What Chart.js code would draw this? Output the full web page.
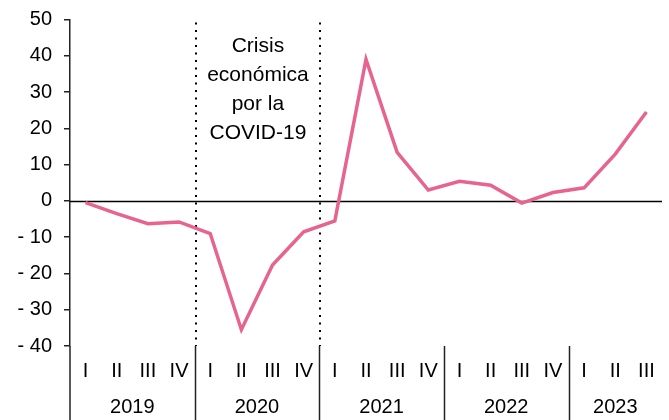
<!DOCTYPE html>
<html>
<head>
<meta charset="utf-8">
<script src="https://cdn.jsdelivr.net/npm/chart.js@4.4.1/dist/chart.umd.min.js"></script>
<style>
  html, body { margin: 0; padding: 0; background: #fff; }
  #wrap { width: 669px; height: 420px; }
</style>
</head>
<body>
<div id="wrap"><canvas id="pibChart" width="669" height="420"></canvas></div>
<script>
// trimestres y años
const trimestres = [
  "I", "II", "III", "IV",
  "I", "II", "III", "IV",
  "I", "II", "III", "IV",
  "I", "II", "III", "IV",
  "I", "II", "III",
];
const anios = ["2019", "2020", "2021", "2022", "2023"];
const trimestresPorAnio = [4, 4, 4, 4, 3];

// variación (%)
const variacion = [
  -0.5, -3.5, -6.3, -5.8,
  -9.0, -35.5, -17.7, -8.5,
  -5.5, 39.0, 13.4, 3.0,
  5.4, 4.3, -0.6, 2.3,
  3.6, 12.9, 24.5,
];

const yMin = -40;
const yMax = 50;
const yPaso = 10;

// periodo de la crisis (índices de trimestre)
const crisisInicio = 4;
const crisisFin = 7;
const notaCrisis = ["Crisis", "económica", "por la", "COVID-19"];

const fuente = "'Liberation Sans', Arial, sans-serif";

const decoracion = {
  id: "decoracion",
  beforeDatasetsDraw(chart) {
    const { ctx, chartArea, scales } = chart;
    const x = scales.x;
    const y = scales.y;
    const borde = (i) => (x.getPixelForValue(i - 1) + x.getPixelForValue(i)) / 2;

    ctx.save();
    // linea del cero
    const y0 = Math.round(y.getPixelForValue(0)) + 0.5;
    ctx.strokeStyle = "#000";
    ctx.lineWidth = 1.5;
    ctx.beginPath();
    ctx.moveTo(chartArea.left, y0);
    ctx.lineTo(chartArea.right, y0);
    ctx.stroke();

    // lineas punteadas de la crisis
    ctx.setLineDash([2, 5.5]);
    ctx.lineWidth = 2;
    [crisisInicio, crisisFin + 1].forEach((i) => {
      const px = Math.round(borde(i)) + 1;
      ctx.beginPath();
      ctx.moveTo(px, chartArea.top + 3);
      ctx.lineTo(px, chartArea.bottom);
      ctx.stroke();
    });
    ctx.setLineDash([]);

    // texto de la crisis
    const cx = (borde(crisisInicio) + borde(crisisFin + 1)) / 2 + 1;
    ctx.fillStyle = "#000";
    ctx.font = "21px " + fuente;
    ctx.textAlign = "center";
    ctx.textBaseline = "middle";
    notaCrisis.forEach((t, k) => {
      ctx.fillText(t, cx, 46 + k * 29.2);
    });
    ctx.restore();
  },
  afterDraw(chart) {
    const { ctx, chartArea, scales } = chart;
    const x = scales.x;
    const borde = (i) => (x.getPixelForValue(i - 1) + x.getPixelForValue(i)) / 2;
    const alto = chart.height;

    ctx.save();
    ctx.strokeStyle = "#222";
    ctx.lineWidth = 1.5;
    // prolongación del eje y
    ctx.beginPath();
    ctx.moveTo(chartArea.left, chartArea.bottom);
    ctx.lineTo(chartArea.left, alto);
    ctx.stroke();

    // separadores de años y etiquetas
    ctx.fillStyle = "#000";
    ctx.font = "20px " + fuente;
    ctx.textAlign = "center";
    ctx.textBaseline = "middle";
    let idx = 0;
    anios.forEach((a, k) => {
      const n = trimestresPorAnio[k];
      const x1 = x.getPixelForValue(idx);
      const x2 = x.getPixelForValue(idx + n - 1);
      ctx.fillText(a, (x1 + x2) / 2, 407);
      idx += n;
      if (idx < trimestres.length) {
        const px = Math.round(borde(idx)) + 0.5;
        ctx.beginPath();
        ctx.moveTo(px, chartArea.bottom);
        ctx.lineTo(px, alto);
        ctx.stroke();
      }
    });
    ctx.restore();
  },
};

const pibCtx = document.getElementById("pibChart");

new Chart(pibCtx, {
  type: "line",

  data: {
    labels: trimestres,

    datasets: [
      {
        data: variacion,

        borderColor: "#E6648F",

        borderWidth: 3.5,

        pointRadius: 0,

        tension: 0,

        fill: false,
      },
    ],
  },

  options: {
    responsive: false,
    animation: false,

    layout: {
      padding: { top: 19.5, right: 7, bottom: 24, left: 0 },
    },

    plugins: {
      legend: { display: false },
      tooltip: { enabled: false },
    },

    scales: {
      x: {
        offset: true,
        grid: { display: false, drawTicks: false },
        border: { display: false },
        ticks: {
          color: "#000",
          font: { family: fuente, size: 20 },
          padding: 13,
          maxRotation: 0,
          autoSkip: false,
        },
      },

      y: {
        min: yMin,
        max: yMax,
        afterFit(scale) {
          scale.width = 70;
          scale.paddingTop = 0;
          scale.paddingBottom = 0;
        },
        grid: {
          drawOnChartArea: false,
          drawTicks: true,
          tickLength: 6,
          color: "#222",
          lineWidth: 1.5,
        },
        border: { display: true, color: "#222", width: 1.5 },
        ticks: {
          stepSize: yPaso,
          color: "#000",
          font: { family: fuente, size: 20 },
          padding: 12,
          callback: function (value) {
            return value < 0 ? "- " + Math.abs(value) : String(value);
          },
        },
      },
    },
  },

  plugins: [decoracion],
});
</script>
</body>
</html>
